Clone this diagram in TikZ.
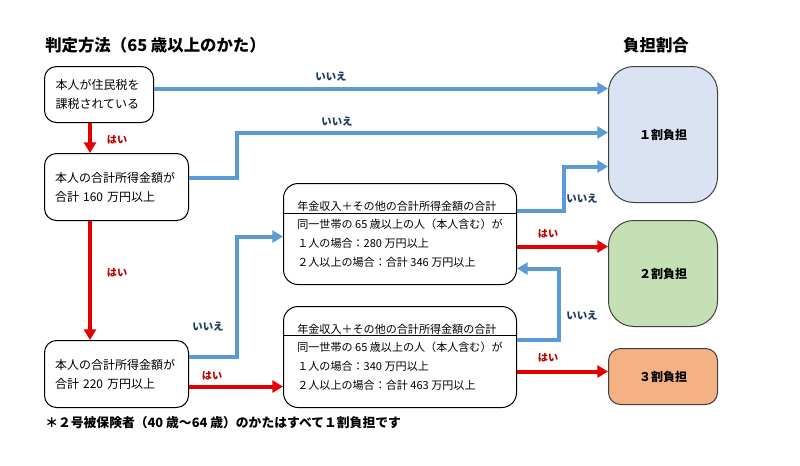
\documentclass[tikz,border=0pt]{standalone}
\usepackage{fontspec}
\setmainfont{Noto Sans CJK JP}
\definecolor{noblue}{RGB}{91, 155, 213}
\definecolor{yesred}{RGB}{228, 0, 0}
\definecolor{nolabel}{RGB}{31, 56, 100}
\definecolor{yeslabel}{RGB}{192, 0, 0}
\definecolor{onefill}{RGB}{218, 227, 243}
\definecolor{twofill}{RGB}{197, 224, 180}
\definecolor{threefill}{RGB}{244, 177, 131}
\usetikzlibrary{arrows.meta, positioning, calc}

\begin{document}
\begin{tikzpicture}[x=0.75pt, y=-0.75pt,
  qbox/.style={draw, rounded corners=9pt, line width=0.75pt, align=left, anchor=north west, inner xsep=8pt, inner ysep=0pt, font=\fontsize{9pt}{14.25pt}\selectfont},
  sumbox/.style={draw, rounded corners=11pt, line width=0.75pt, align=left, anchor=north west, inner sep=0pt, minimum width=174.75pt, minimum height=75.75pt, font=\fontsize{8.3pt}{14pt}\selectfont},
  ratebox/.style={draw=black!75, line width=0.75pt, anchor=north west, minimum width=81.75pt, font=\bfseries\fontsize{9pt}{11pt}\selectfont},
  noarrow/.style={noblue, line width=3pt, -{Triangle[length=8pt, width=9pt]}},
  yesarrow/.style={yesred, line width=3pt, -{Triangle[length=8pt, width=9pt]}},
  nolab/.style={text=nolabel, inner sep=0pt, font=\bfseries\fontsize{7.8pt}{9pt}\selectfont},
  yeslab/.style={text=yeslabel, inner sep=0pt, font=\bfseries\fontsize{7.6pt}{9pt}\selectfont},
  heading/.style={inner sep=0pt, font=\bfseries\fontsize{12.3pt}{14pt}\selectfont}]
  \useasboundingbox (0,0) rectangle (800,465);

  % headings
  \node[heading, anchor=west] (method) at (45,45) {判定方法（65 歳以上のかた）};
  \node[heading] (share) at (656,45) {負担割合};

  % questions
  \node[qbox, text width=65.25pt, minimum width=81.75pt, minimum height=42pt] (A) at (44,66) {本人が住民税を\\課税されている};
  \node[qbox, text width=92pt, minimum width=108pt, minimum height=50.25pt] (B) at (44,153) {本人の合計所得金額が\\合計 160 万円以上};
  \node[qbox, text width=92pt, minimum width=108pt, minimum height=50.25pt] (C) at (44,340) {本人の合計所得金額が\\合計 220 万円以上};

  % household totals
  \node[sumbox] (D) at (283,183) {年金収入＋その他の合計所得金額の合計\\同一世帯の 65 歳以上の人（本人含む）が\\１人の場合：280 万円以上\\２人以上の場合：合計 346 万円以上};
  \draw[line width=0.75pt] ([yshift=-23pt]D.north west) -- ([yshift=-23pt]D.north east);
  \node[sumbox] (E) at (283,306) {年金収入＋その他の合計所得金額の合計\\同一世帯の 65 歳以上の人（本人含む）が\\１人の場合：340 万円以上\\２人以上の場合：合計 463 万円以上};
  \draw[line width=0.75pt] ([yshift=-22pt]E.north west) -- ([yshift=-22pt]E.north east);

  % shares
  \node[ratebox, fill=onefill, rounded corners=19pt, minimum height=102pt] (R1) at (608,66) {１割負担};
  \node[ratebox, fill=twofill, rounded corners=19pt, minimum height=79.5pt] (R2) at (608,220) {２割負担};
  \node[ratebox, fill=threefill, rounded corners=9pt, minimum height=42pt] (R3) at (608,348) {３割負担};

  % connectors
  \coordinate (a1) at ([yshift=4.5pt]A.east);
  \draw[noarrow] (a1) -- (a1 -| R1.west);
  \coordinate (a2) at ([xshift=34.5pt]A.south west);
  \draw[yesarrow] (a2) -- (a2 |- B.north);
  \coordinate (b1) at ([yshift=6.4pt]B.east);
  \draw[noarrow] (b1) -- ++(48,0) |- ([yshift=1.5pt]R1.west);
  \coordinate (b2) at ([xshift=34.5pt]B.south west);
  \draw[yesarrow] (b2) -- (b2 |- C.north);
  \coordinate (c1) at ([yshift=12.4pt]C.east);
  \draw[noarrow] (c1) -- ++(48,0) |- ([yshift=-1.9pt]D.west);
  \coordinate (c2) at ([yshift=-9.4pt]C.east);
  \draw[yesarrow] (c2) -- (c2 -| E.west);
  \coordinate (d1) at ([yshift=17.6pt]D.east);
  \draw[noarrow] (d1) -- ++(47,0) |- ([yshift=-24pt]R1.west);
  \coordinate (d2) at ([yshift=-9.4pt]D.east);
  \draw[yesarrow] (d2) -- (d2 -| R2.west);
  \coordinate (e1) at ([yshift=12.4pt]E.east);
  \draw[noarrow] (e1) -- ++(42,0) |- ([yshift=-25.9pt]D.east);
  \coordinate (e2) at ([yshift=-10.9pt]E.east);
  \draw[yesarrow] (e2) -- (e2 -| R3.west);

  % labels
  \node[nolab] (n1) at (331,77) {いいえ};
  \node[yeslab] (y1) at (117,140) {はい};
  \node[nolab] (n2) at (337,122) {いいえ};
  \node[yeslab] (y2) at (117,273) {はい};
  \node[nolab] (n3) at (208,327) {いいえ};
  \node[yeslab] (y3) at (212,376) {はい};
  \node[nolab] (n4) at (582,199) {いいえ};
  \node[yeslab] (y4) at (548,234) {はい};
  \node[nolab] (n5) at (582,316) {いいえ};
  \node[yeslab] (y5) at (548,358) {はい};

  % note
  \node[anchor=west, inner sep=0pt, font=\bfseries\fontsize{9.6pt}{11pt}\selectfont] (note) at (45,423) {＊２号被保険者（40 歳～64 歳）のかたはすべて１割負担です};
\end{tikzpicture}
\end{document}
